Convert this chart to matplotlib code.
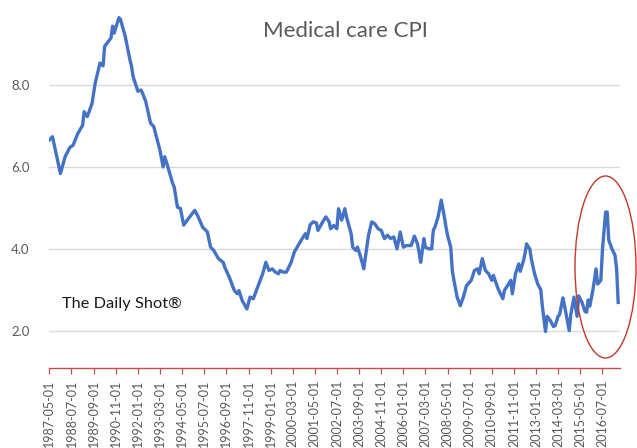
import matplotlib
matplotlib.use("Agg")
import matplotlib.pyplot as plt
from matplotlib.patches import Ellipse
import numpy as np

# ---- data (year-month, Medical care CPI % y/y) ----
dates = [
    "1987-05", "1987-07", "1987-12", "1988-03", "1988-06", "1988-08", "1988-11",
    "1989-02", "1989-03", "1989-05", "1989-08", "1989-10", "1990-01", "1990-03",
    "1990-04", "1990-08", "1990-09", "1990-10", "1991-01", "1991-02", "1991-05",
    "1991-08", "1991-09", "1991-10", "1992-01", "1992-03", "1992-04", "1992-06",
    "1992-09", "1992-11", "1993-03", "1993-05", "1993-06", "1993-08", "1993-11",
    "1993-12", "1994-02", "1994-04", "1994-06", "1994-09", "1995-01", "1995-03",
    "1995-06", "1995-09", "1995-11", "1996-01", "1996-04", "1996-07", "1996-08",
    "1996-11", "1997-02", "1997-04", "1997-05", "1997-07", "1997-10", "1997-12",
    "1998-02", "1998-04", "1998-08", "1998-10", "1998-12", "1999-02", "1999-04",
    "1999-06", "1999-07", "1999-09", "1999-11", "2000-02", "2000-04", "2000-07",
    "2000-09", "2000-11", "2000-12", "2001-02", "2001-04", "2001-06", "2001-07",
    "2001-10", "2001-12", "2002-02", "2002-03", "2002-05", "2002-07", "2002-08",
    "2002-10", "2002-12", "2003-01", "2003-04", "2003-05", "2003-07", "2003-08",
    "2003-10", "2003-12", "2004-01", "2004-03", "2004-05", "2004-07", "2004-09",
    "2004-11", "2005-01", "2005-03", "2005-05", "2005-07", "2005-09", "2005-11",
    "2006-01", "2006-03", "2006-06", "2006-08", "2006-10", "2006-11", "2006-12",
    "2007-02", "2007-03", "2007-05", "2007-07", "2007-08", "2007-09", "2007-11",
    "2008-01", "2008-03", "2008-04", "2008-05", "2008-07", "2008-08", "2008-09",
    "2008-11", "2009-01", "2009-03", "2009-05", "2009-08", "2009-10", "2009-12",
    "2010-01", "2010-03", "2010-05", "2010-07", "2010-09", "2010-10", "2011-01",
    "2011-04", "2011-05", "2011-07", "2011-09", "2011-10", "2011-12", "2012-02",
    "2012-03", "2012-05", "2012-06", "2012-07", "2012-08", "2012-09", "2012-10",
    "2012-12", "2013-02", "2013-04", "2013-05", "2013-07", "2013-08", "2013-10",
    "2013-12", "2014-01", "2014-03", "2014-04", "2014-06", "2014-07", "2014-09",
    "2014-10", "2014-11", "2015-01", "2015-03", "2015-04", "2015-06", "2015-08",
    "2015-09", "2015-10", "2015-11", "2016-01", "2016-03", "2016-04", "2016-06",
    "2016-07", "2016-09", "2016-10", "2016-11", "2017-01", "2017-03", "2017-04",
    "2017-05",
]
values = [
    6.66, 6.74, 5.84, 6.25, 6.48, 6.53, 6.82,
    7.02, 7.35, 7.23, 7.55, 8.05, 8.54, 8.47,
    8.95, 9.15, 9.44, 9.27, 9.65, 9.60, 9.20,
    8.62, 8.46, 8.21, 7.85, 7.88, 7.80, 7.60,
    7.07, 6.99, 6.41, 6.00, 6.25, 6.00, 5.60,
    5.51, 5.02, 4.98, 4.58, 4.74, 4.94, 4.80,
    4.53, 4.41, 4.04, 3.96, 3.76, 3.67, 3.55,
    3.29, 2.98, 2.90, 2.98, 2.74, 2.53, 2.82,
    2.78, 2.98, 3.39, 3.67, 3.47, 3.51, 3.43,
    3.39, 3.47, 3.43, 3.43, 3.67, 3.92, 4.12,
    4.25, 4.37, 4.25, 4.59, 4.66, 4.63, 4.45,
    4.66, 4.78, 4.66, 4.49, 4.57, 4.49, 4.98,
    4.70, 4.98, 4.78, 4.37, 4.04, 3.96, 4.04,
    3.80, 3.51, 3.80, 4.33, 4.66, 4.61, 4.49,
    4.45, 4.25, 4.33, 4.25, 4.29, 4.00, 4.41,
    4.04, 4.08, 4.08, 4.31, 4.12, 3.90, 3.67,
    4.25, 4.04, 4.00, 4.00, 4.45, 4.53, 4.78,
    5.19, 4.78, 4.53, 4.33, 4.04, 3.47, 3.23,
    2.82, 2.61, 2.82, 3.10, 3.23, 3.47, 3.51,
    3.39, 3.76, 3.47, 3.39, 3.23, 3.35, 3.02,
    2.78, 2.98, 3.10, 3.23, 2.90, 3.39, 3.63,
    3.45, 3.70, 3.88, 4.12, 4.05, 4.00, 3.75,
    3.40, 3.14, 3.00, 2.60, 1.98, 2.35, 2.25,
    2.10, 2.12, 2.35, 2.40, 2.80, 2.62, 2.20,
    2.00, 2.40, 2.82, 2.35, 2.85, 2.70, 2.47,
    2.45, 2.75, 2.60, 3.00, 3.51, 3.14, 3.23,
    3.96, 4.90, 4.90, 4.21, 4.00, 3.84, 3.51,
    2.69,
]
tick_labels = [
    "1987-05-01", "1988-07-01", "1989-09-01", "1990-11-01", "1992-01-01",
    "1993-03-01", "1994-05-01", "1995-07-01", "1996-09-01", "1997-11-01",
    "1999-01-01", "2000-03-01", "2001-05-01", "2002-07-01", "2003-09-01",
    "2004-11-01", "2006-01-01", "2007-03-01", "2008-05-01", "2009-07-01",
    "2010-09-01", "2011-11-01", "2013-01-01", "2014-03-01", "2015-05-01",
    "2016-07-01",
]
y_ticks = [2.0, 4.0, 6.0, 8.0]
title = "Medical care CPI"
watermark = "The Daily Shot®"

# ---- figure ----
W, H = 637, 448
fig = plt.figure(figsize=(W / 100, H / 100), dpi=100)
ax = fig.add_axes([49 / W, 1 - 368.3 / H, (620 - 49) / W, 368.3 / H])

x = np.array([np.datetime64(d + "-01") for d in dates])
ax.plot(x, values, color="#4472C4", lw=2.4, solid_joinstyle="round", zorder=3)

ax.set_ylim(1.08, 10.08)
ax.set_xlim(np.datetime64("1987-04-25"), np.datetime64("2017-06-05"))

ax.set_yticks(y_ticks)
ax.set_yticklabels([f"{v:.1f}" for v in y_ticks])
ax.yaxis.grid(True, color="#D9D9D9", lw=1.0)
ax.set_axisbelow(True)
ax.tick_params(axis="y", length=0, pad=14, labelsize=9.5, labelcolor="#595959")

xt = [np.datetime64(t) for t in tick_labels]
ax.set_xticks(xt)
ax.set_xticklabels(tick_labels, rotation=90, fontsize=9.0, color="#595959",
                   family=["Lato", "DejaVu Sans"])
ax.tick_params(axis="x", length=4, width=0.9, color="#C0504D", pad=4,
               direction="out")

for s in ["top", "right", "left"]:
    ax.spines[s].set_visible(False)
ax.spines["bottom"].set_color("#C0504D")
ax.spines["bottom"].set_linewidth(1.0)

for lab in ax.get_yticklabels():
    lab.set_family(["Lato", "DejaVu Sans"])

fig.text(345 / W, 1 - 31 / H, title, ha="center", va="center",
         fontsize=16, color="#595959", family=["Lato", "DejaVu Sans"])
fig.text(62 / W, 1 - 304 / H, watermark, ha="left", va="center",
         fontsize=11.8, color="#1a1a1a", family=["Lato", "DejaVu Sans"])

ell = Ellipse((605.5 / W, 1 - 267 / H), 61 / W, 182 / H,
              transform=fig.transFigure, fill=False, edgecolor="#C0392B",
              lw=1.0, zorder=5)
fig.patches.append(ell)

fig.savefig("out.png", dpi=100)
